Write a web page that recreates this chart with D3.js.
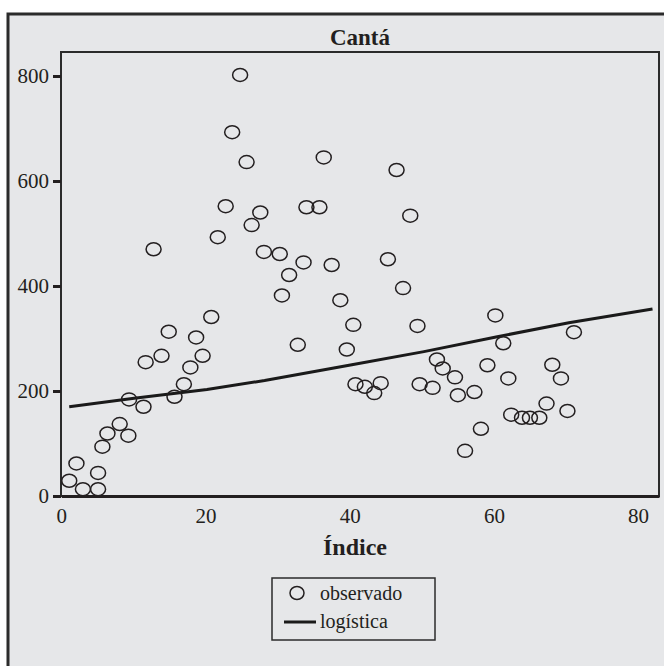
<!DOCTYPE html>
<html>
<head>
<meta charset="utf-8">
<script src="https://cdn.jsdelivr.net/npm/d3@7"></script>
<style>
  html, body { margin: 0; padding: 0; background: #fff; }
  svg { display: block; }
  text { font-family: "Liberation Serif", "DejaVu Serif", serif; fill: #231f20; }
</style>
</head>
<body>
<div id="chart"></div>
<script>
// observed points (Índice, value)
const obs_x = [1.1, 2.1, 3.0, 5.1, 5.1, 5.7, 6.4, 8.1, 9.3, 9.4, 11.4, 11.7, 12.8, 13.9, 14.9, 15.7, 17.0, 17.9, 18.7, 19.6,
  20.8, 21.7, 22.8, 23.7, 24.8, 25.7, 26.4, 27.6, 28.1, 30.3, 30.6, 31.6, 32.8, 33.6, 34.0, 35.8, 36.4, 37.5, 38.7, 39.6,
  40.5, 40.8, 42.1, 43.4, 44.3, 45.3, 46.5, 47.4, 48.4, 49.4, 49.7, 51.5, 52.1, 52.9, 54.6, 55.0, 56.0, 57.3, 58.2, 59.1,
  60.2, 61.3, 62.0, 62.4, 63.9, 65.0, 66.3, 67.3, 68.1, 69.3, 70.2, 71.1];
const obs_y = [29, 62, 13, 44, 13, 94, 119, 137, 115, 184, 170, 255, 470, 267, 313, 189, 213, 245, 302, 267,
  341, 493, 552, 693, 802, 636, 516, 540, 465, 461, 382, 421, 288, 445, 550, 550, 645, 440, 373, 279,
  326, 213, 208, 196, 215, 451, 621, 396, 534, 324, 213, 206, 260, 243, 226, 192, 86, 198, 128, 249,
  344, 291, 224, 155, 149, 149, 149, 176, 250, 224, 162, 312];

// logistic fit
const fit_x = [1.1, 10.1, 20.2, 28.2, 40.3, 50.3, 60.3, 70.4, 82];
const fit_y = [170, 186, 203, 220, 250, 275, 303, 330, 356];

const x_ticks = [0, 20, 40, 60, 80];
const y_ticks = [0, 200, 400, 600, 800];

const title = "Cantá";
const x_label = "Índice";
const legend_labels = ["observado", "logística"];

const W = 664, H = 666;
const plot = {left: 61, right: 659, top: 52, bottom: 496};

const svg = d3.select("#chart").append("svg")
  .attr("width", W)
  .attr("height", H);

// outer panel (its right and bottom edges fall outside the picture)
svg.append("rect")
  .attr("x", 8).attr("y", 14)
  .attr("width", 700).attr("height", 700)
  .attr("fill", "#e6e7e9")
  .attr("stroke", "#2b2b2b")
  .attr("stroke-width", 3);

const x = d3.scaleLinear().domain([0, 82.9]).range([61.3, plot.right]);
const y = d3.scaleLinear().domain([0, 800]).range([plot.bottom, 76]);

// title
svg.append("text")
  .attr("x", (plot.left + plot.right) / 2)
  .attr("y", 45)
  .attr("text-anchor", "middle")
  .attr("font-size", 23)
  .attr("font-weight", "bold")
  .text(title);

// plot frame
svg.append("rect")
  .attr("x", plot.left).attr("y", plot.top)
  .attr("width", plot.right - plot.left)
  .attr("height", plot.bottom - plot.top)
  .attr("fill", "none")
  .attr("stroke", "#2b2b2b")
  .attr("stroke-width", 2);

// y axis
const yAxis = svg.append("g")
  .attr("transform", `translate(${plot.left},0)`)
  .call(d3.axisLeft(y).tickValues(y_ticks).tickSize(8).tickPadding(4).tickFormat(d3.format("d")));
yAxis.select(".domain").remove();
yAxis.selectAll(".tick line").attr("stroke", "#231f20").attr("stroke-width", 3);
yAxis.selectAll(".tick text").attr("font-size", 21);

// x axis
const xAxis = svg.append("g")
  .attr("transform", `translate(0,${plot.bottom})`)
  .call(d3.axisBottom(x).tickValues(x_ticks).tickSize(0).tickPadding(12));
xAxis.select(".domain").attr("stroke", "#231f20").attr("stroke-width", 3);
xAxis.selectAll(".tick text").attr("font-size", 21);

// x label
svg.append("text")
  .attr("x", 355)
  .attr("y", 555)
  .attr("text-anchor", "middle")
  .attr("font-size", 24)
  .attr("font-weight", "bold")
  .text(x_label);

// logistic line
const fit = fit_x.map((d, i) => ({x: d, y: fit_y[i]}));
svg.append("path")
  .datum(fit)
  .attr("fill", "none")
  .attr("stroke", "#1a1a1a")
  .attr("stroke-width", 3)
  .attr("d", d3.line().x(d => x(d.x)).y(d => y(d.y)));

// observed points
const pts = obs_x.map((d, i) => ({x: d, y: obs_y[i]}));
svg.append("g").selectAll("ellipse")
  .data(pts)
  .join("ellipse")
  .attr("cx", d => x(d.x))
  .attr("cy", d => y(d.y))
  .attr("rx", 7.5)
  .attr("ry", 6.5)
  .attr("fill", "none")
  .attr("stroke", "#231f20")
  .attr("stroke-width", 1.5);

// legend
const lg = svg.append("g");
lg.append("rect")
  .attr("x", 272).attr("y", 578)
  .attr("width", 163).attr("height", 62)
  .attr("fill", "none")
  .attr("stroke", "#2b2b2b")
  .attr("stroke-width", 1.5);
lg.append("ellipse")
  .attr("cx", 297).attr("cy", 593)
  .attr("rx", 7).attr("ry", 6.5)
  .attr("fill", "none")
  .attr("stroke", "#231f20")
  .attr("stroke-width", 1.5);
lg.append("line")
  .attr("x1", 284).attr("x2", 316)
  .attr("y1", 622).attr("y2", 622)
  .attr("stroke", "#1a1a1a")
  .attr("stroke-width", 3);
lg.selectAll("text.lab")
  .data(legend_labels)
  .join("text")
  .attr("class", "lab")
  .attr("x", 320)
  .attr("y", (d, i) => 600 + i * 28)
  .attr("font-size", 20)
  .text(d => d);
</script>
</body>
</html>
